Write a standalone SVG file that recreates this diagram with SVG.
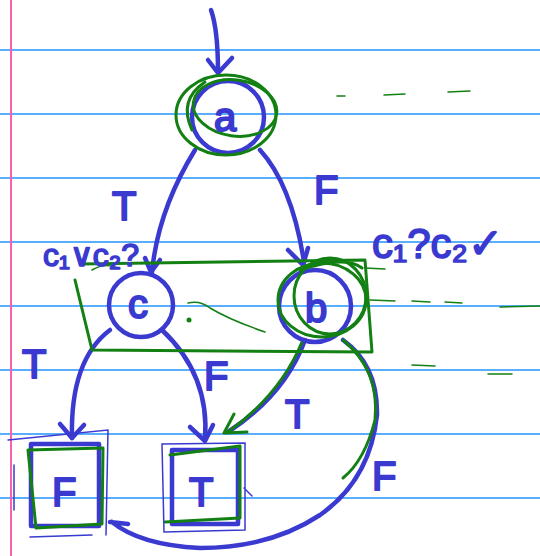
<svg xmlns="http://www.w3.org/2000/svg" width="540" height="556" viewBox="0 0 540 556">
<style>
.rule{stroke:#5aaeff;stroke-width:2}
.b{fill:none;stroke:#3a3ad0;stroke-width:4.5;stroke-linecap:round;stroke-linejoin:round}
.bt{fill:none;stroke:#3a3ad0;stroke-width:1.5;stroke-linecap:round}
.g{fill:none;stroke:#138013;stroke-width:3;stroke-linecap:round;stroke-linejoin:round}
.gt{fill:none;stroke:#138013;stroke-width:1.5;stroke-linecap:round}
.lbl{font-family:"Liberation Sans",Arial,sans-serif;fill:#3a3ad0;stroke:#3a3ad0;stroke-width:2;stroke-linejoin:round;font-size:40px}
.hw{font-family:"Liberation Sans",Arial,sans-serif;fill:#3a3ad0;stroke:#3a3ad0;stroke-width:1.6;stroke-linejoin:round}
</style>
<rect width="540" height="556" fill="#fff"/>
<g id="paper">
<line class="rule" x1="0" y1="50" x2="540" y2="50"/>
<line class="rule" x1="0" y1="114" x2="540" y2="114"/>
<line class="rule" x1="0" y1="178" x2="540" y2="178"/>
<line class="rule" x1="0" y1="242" x2="540" y2="242"/>
<line class="rule" x1="0" y1="306" x2="540" y2="306"/>
<line class="rule" x1="0" y1="370" x2="540" y2="370"/>
<line class="rule" x1="0" y1="434" x2="540" y2="434"/>
<line class="rule" x1="0" y1="498" x2="540" y2="498"/>
<line x1="11" y1="0" x2="11" y2="556" stroke="#ff5fa8" stroke-width="2"/>
</g>
<g id="connectors">
<path class="b" d="M211 10 Q218 30 218 72"/>
<path class="b" d="M208 60 L218 73 L232 58"/>
<path class="b" d="M195 150 Q158 210 152 272"/>
<path class="b" d="M145 258 L151 272 L160 260"/>
<path class="b" d="M260 150 Q292 185 304 262"/>
<path class="b" d="M288 250 L303 265 L308 248"/>
<path class="b" d="M110 330 Q70 360 72 438"/>
<path class="b" d="M60 424 L72 438 L84 425"/>
<path class="b" d="M162 330 Q210 375 205 440"/>
<path class="b" d="M190 427 L205 441 L213 425"/>
<path class="b" d="M305 340 Q285 395 228 432"/>
<path class="g" d="M302 342 Q280 395 228 432 M234 414 L224 433 L247 432"/>
<path class="b" d="M343 340 Q378 365 377 415 Q370 480 320 515 Q270 548 200 548 Q140 545 112 522 M110 522 L128 524"/>
<path class="g" d="M343 340 Q380 370 375 420 Q365 460 343 478"/>
<text class="lbl" x="112" y="220">T</text>
<text class="lbl" x="314" y="204">F</text>
<text class="lbl" x="22" y="378">T</text>
<text class="lbl" x="204" y="390">F</text>
<text class="lbl" x="285" y="428">T</text>
<text class="lbl" x="372" y="490">F</text>
</g>
<g id="annotations">
<path class="g" d="M80 264 L365 260 L372 352 L92 350 L75 280"/>
<path class="gt" d="M188 303 Q200 300 210 308 Q230 320 265 332"/>
<path class="gt" d="M92 270 Q105 262 118 268"/>
<path class="gt" d="M337 96 L345 96 M384 95 L405 94 M448 92 L470 91 M370 300 L395 301 M412 301 L430 302 M445 302 L462 303 M500 307 L540 306 M412 365 L435 366 M488 374 L512 374 M365 268 L385 269"/>
<circle cx="189" cy="320" r="2.5" fill="#138013"/>
<text class="hw" x="43" y="266" font-size="32">c₁∨c₂?</text>
<text class="hw" x="372" y="258" font-size="42">c₁?c₂✓</text>
</g>
<g id="node-a">
<circle class="b" cx="228" cy="117" r="36"/>
<ellipse class="g" cx="226" cy="115" rx="50" ry="40"/>
<ellipse class="g" cx="235" cy="108" rx="42" ry="28" transform="rotate(8 235 108)"/>
<path class="g" d="M192 130 Q178 100 205 82"/>
<text class="lbl" x="214" y="131" font-size="38">a</text>
</g>
<g id="node-c">
<circle class="b" cx="141" cy="305" r="32"/>
<text class="lbl" x="128" y="318" font-size="38">c</text>
</g>
<g id="node-b">
<circle class="b" cx="315" cy="306" r="36"/>
<ellipse class="g" cx="322" cy="300" rx="44" ry="37"/>
<ellipse class="g" cx="330" cy="296" rx="36" ry="38"/>
<path class="g" d="M300 270 Q345 255 362 268"/>
<text class="lbl" x="305" y="322" font-size="42">b</text>
</g>
<g id="node-F">
<rect class="b" x="31" y="444" width="68" height="82"/>
<path class="g" d="M28 450 L103 448 L102 524 L36 528 Z"/>
<path class="bt" d="M8 440 L108 430 L106 535 M14 465 L14 510 M30 537 L92 535"/>
<text class="lbl" x="52" y="506" font-size="44">F</text>
</g>
<g id="node-T">
<rect class="b" x="172" y="450" width="66" height="74"/>
<path class="g" d="M170 455 L240 446 L240 518 L165 522"/>
<path class="bt" d="M162 444 L245 443 L245 530 L164 532 Z M244 488 L252 496"/>
<text class="lbl" x="189" y="506" font-size="44">T</text>
</g>
</svg>
